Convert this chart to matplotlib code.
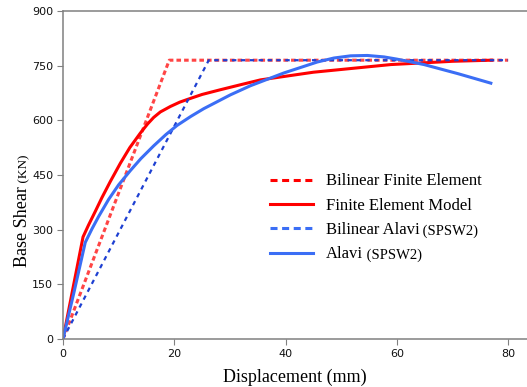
import matplotlib.pyplot as plt
from matplotlib.lines import Line2D

# bilinear idealisations
bil_fe_x = [0, 19.1, 80]
bil_fe_y = [0, 765, 765]
bil_alavi_x = [0, 26.2, 80]
bil_alavi_y = [0, 765, 765]

# finite element model curve
fe_x = [0, 1.8, 3.6, 4.6, 5.8, 7.0, 8.5, 10.3, 12.0, 13.9, 15.2, 16.3, 17.5,
        19.3, 21.0, 22.3, 25.0, 28.3, 32.0, 35.5, 45.0, 58.9, 70.0, 77.0]
fe_y = [0, 140, 280, 313, 350, 388, 432, 482, 525, 565, 590, 608, 623,
        638, 650, 657, 671, 684, 698, 711, 732, 753, 762, 765]

# Alavi (SPSW2) test curve
alavi_x = [0, 2.0, 4.0, 5.2, 6.4, 8.2, 10.0, 12.1, 14.0, 16.3, 18.5, 20.5,
           23.0, 25.3, 30.1, 33.7, 39.7, 45.7, 48.7, 51.7, 54.7, 57.7, 60.0,
           64.9, 71.0, 76.9]
alavi_y = [0, 130, 265, 302, 336, 383, 423, 462, 495, 530, 561, 586,
           611, 632, 670, 695, 730, 760, 771, 777, 778, 774, 768,
           753, 728, 702]

xticks = [0, 20, 40, 60, 80]
yticks = [0, 150, 300, 450, 600, 750, 900]

red = '#ff0000'
red_dot = '#ff4545'
blue = '#3b6ef5'
blue_dash = '#1e40d2'
serif = 'Liberation Serif'

fig = plt.figure(figsize=(5.27, 3.87), dpi=100)
ax = fig.add_axes([63/527, 1 - 339/387, (527 - 63)/527, (339 - 11)/387])

ax.plot(bil_fe_x, bil_fe_y, color=red_dot, lw=2.2, ls=(0, (1.5, 1.0)))
ax.plot(fe_x, fe_y, color=red, lw=2.2)
ax.plot(bil_alavi_x, bil_alavi_y, color=blue_dash, lw=1.6, ls=(0, (2, 2)))
ax.plot(alavi_x, alavi_y, color=blue, lw=2.2)

ax.set_xlim(0, 83.4)
ax.set_ylim(0, 900)
ax.set_xticks(xticks)
ax.set_yticks(yticks)
ax.tick_params(direction='out', length=4, width=0.8, color='#808080',
               labelsize=8, pad=3, labelcolor='#111111')
for s in ['left', 'bottom', 'top']:
    ax.spines[s].set_color('#808080')
    ax.spines[s].set_linewidth(1.1)
ax.spines['right'].set_visible(False)

ax.set_xlabel('Displacement (mm)', fontsize=13, family=serif, labelpad=7)

ylab = ax.text(-0.088, 0.22, 'Base Shear', transform=ax.transAxes, rotation=90,
               ha='center', va='bottom', fontsize=13, family=serif)
ax.annotate(' (KN)', xy=(1, 1), xycoords=ylab, rotation=90, ha='right',
            va='bottom', fontsize=9.5, family=serif)

handles = [
    Line2D([], [], color=red, lw=2.2, ls=(0, (2.3, 1.5))),
    Line2D([], [], color=red, lw=2.2),
    Line2D([], [], color=blue, lw=2.2, ls=(0, (2.3, 1.5))),
    Line2D([], [], color=blue, lw=2.2),
]
labels = ['Bilinear Finite Element', 'Finite Element Model', 'Bilinear Alavi', 'Alavi']
leg = ax.legend(handles, labels, loc='upper left', bbox_to_anchor=(0.446, 0.505),
                frameon=False, prop={'family': serif, 'size': 12},
                handlelength=2.6, handletextpad=0.75, labelspacing=0.5,
                borderaxespad=0, borderpad=0)
for t in leg.get_texts()[2:]:
    ax.annotate(' (SPSW2)', xy=(1, 0), xycoords=t, ha='left', va='bottom',
                fontsize=10.5, family=serif, zorder=6)

fig.savefig('out.png', dpi=100)
